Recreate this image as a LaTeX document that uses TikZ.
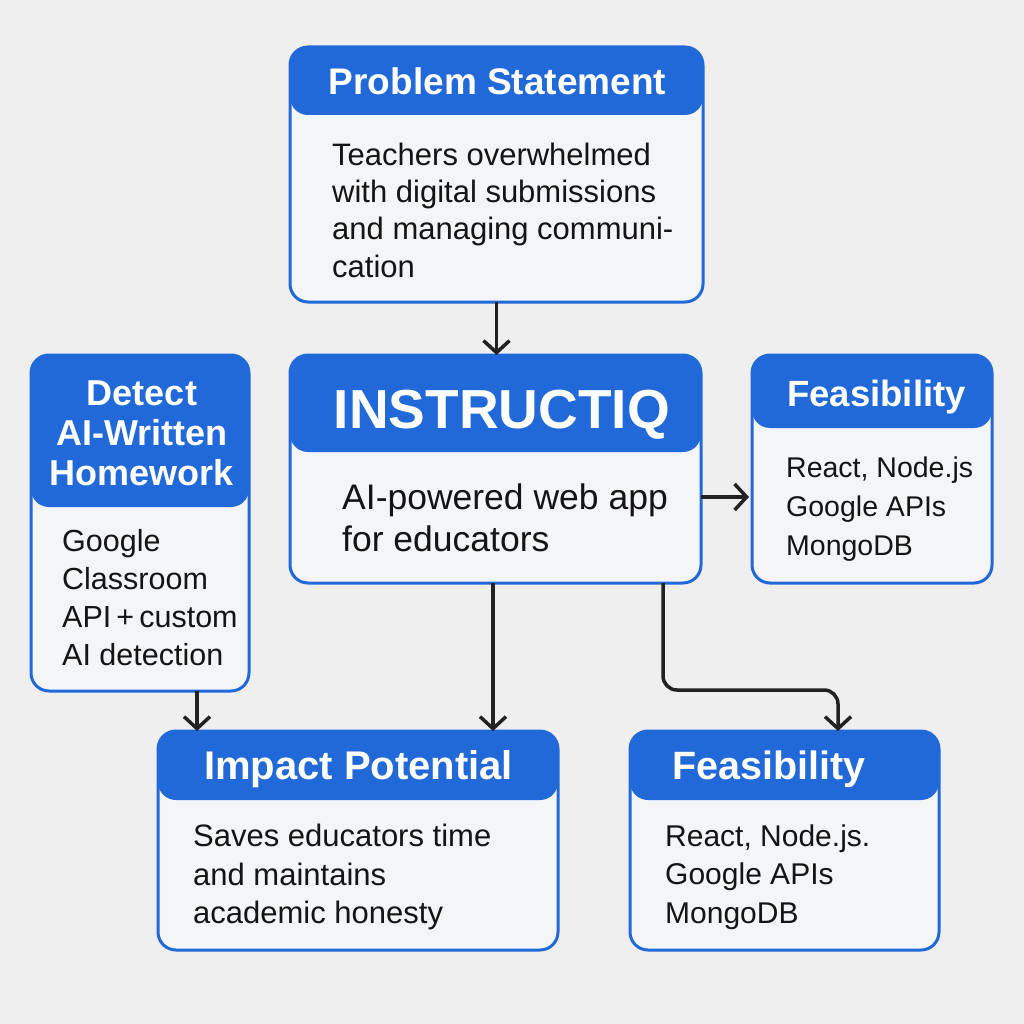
\documentclass[tikz,border=0pt]{standalone}
\usepackage{fontspec}
\setmainfont{Liberation Sans}
\usetikzlibrary{arrows.meta,calc}
\definecolor{bg}{RGB}{239,239,239}
\definecolor{hdr}{RGB}{33,104,217}
\definecolor{bodyfill}{RGB}{244,245,247}
\definecolor{ink}{RGB}{20,20,20}
\definecolor{wire}{RGB}{34,34,34}
\begin{document}
\begin{tikzpicture}[x=1pt,y=-1pt,
  card/.style n args={3}{draw=hdr, line width=3pt, fill=bodyfill,
    rounded corners=18pt, inner sep=0pt, outer sep=0pt,
    minimum width=#1, minimum height=#2,
    path picture={\fill[hdr] (path picture bounding box.north west)
      rectangle ([yshift=-#3]path picture bounding box.north east);}},
  head/.style={text=white, font=\bfseries\fontsize{#1}{40}\selectfont, align=center, inner sep=0pt},
  head/.default=36,
  txt/.style={text=ink, anchor=west, align=left, inner sep=0pt,
    font=\fontsize{#1}{38}\selectfont},
  txt/.default=30,
  arr/.style={draw=wire, line width=3.5pt, -{Straight Barb[length=12pt,width=26pt]}}]

\useasboundingbox (0,0) rectangle (1024,1024);
\fill[bg] (0,0) rectangle (1024,1024);

% boxes: centre, width, height, header depth
\node[card={413pt}{255pt}{68pt}] (ps)  at (496.5,174.5) {};
\node[card={411pt}{228pt}{97pt}] (iq)  at (495.5,469)   {};
\node[card={218pt}{336pt}{152pt}] (det) at (140,523)    {};
\node[card={240pt}{228pt}{73pt}] (fr)  at (872,469)     {};
\node[card={400pt}{219pt}{69pt}] (imp) at (358,840.5)   {};
\node[card={309pt}{219pt}{69pt}] (fb)  at (784.5,840.5) {};

% headings
\node[head=37] (psh) at (497.5,81) {Problem Statement};
\node[head=55] (iqh) at (502,415) {INSTRUCTIQ};
\node[head=36] (deth) at (142,433) {Detect\\AI-Written\\Homework};
\node[head=36.5] (frh) at (876.5,397) {Feasibility};
\node[head=40] (imph) at (358.5,769) {Impact Potential};
\node[head=39.5] (fbh) at (769,769) {Feasibility};

% body texts
\node[txt=31, font=\fontsize{31}{37.3}\selectfont] (psb) at (332,210)
  {Teachers overwhelmed\\with digital submissions\\and managing communi-\\cation};
\node[txt=35.5, font=\fontsize{35.5}{42}\selectfont] (iqb) at (342,518)
  {AI-powered web app\\for educators};
\node[txt=30.5] (detb) at (62,598)
  {Google\\Classroom\\API\,+\,custom\\AI detection};
\node[txt=28.5, font=\fontsize{28.5}{39}\selectfont] (frb) at (786,509)
  {React, Node.js\\Google APIs\\MongoDB};
\node[txt=31, font=\fontsize{31}{38.5}\selectfont] (impb) at (193,877)
  {Saves educators time\\and maintains\\academic honesty};
\node[txt=30, font=\fontsize{30}{38.5}\selectfont] (fbb) at (665,877)
  {React, Node.js.\\Google APIs\\MongoDB};

% connector anchors
\coordinate (iqr) at ($(iq.east)+(0,28)$);
\coordinate (iqd) at ($(iq.south west)+(203,0)$);
\coordinate (iqk) at ($(iq.south west)+(373,0)$);
\coordinate (detd) at ($(det.south west)+(166,0)$);
\coordinate (fbin) at ($(fb.north west)+(208,0)$);

% connectors
\draw[arr] (ps.south) -- (ps.south |- iq.north);
\draw[arr] (iqr) -- ([xshift=-3pt]fr.west |- iqr);
\draw[arr] (iqd) -- (iqd |- imp.north);
\draw[arr] (detd) -- (detd |- imp.north);
\draw[arr, rounded corners=14pt] (iqk) -- ++(0,107) -| (fbin);
\end{tikzpicture}
\end{document}
